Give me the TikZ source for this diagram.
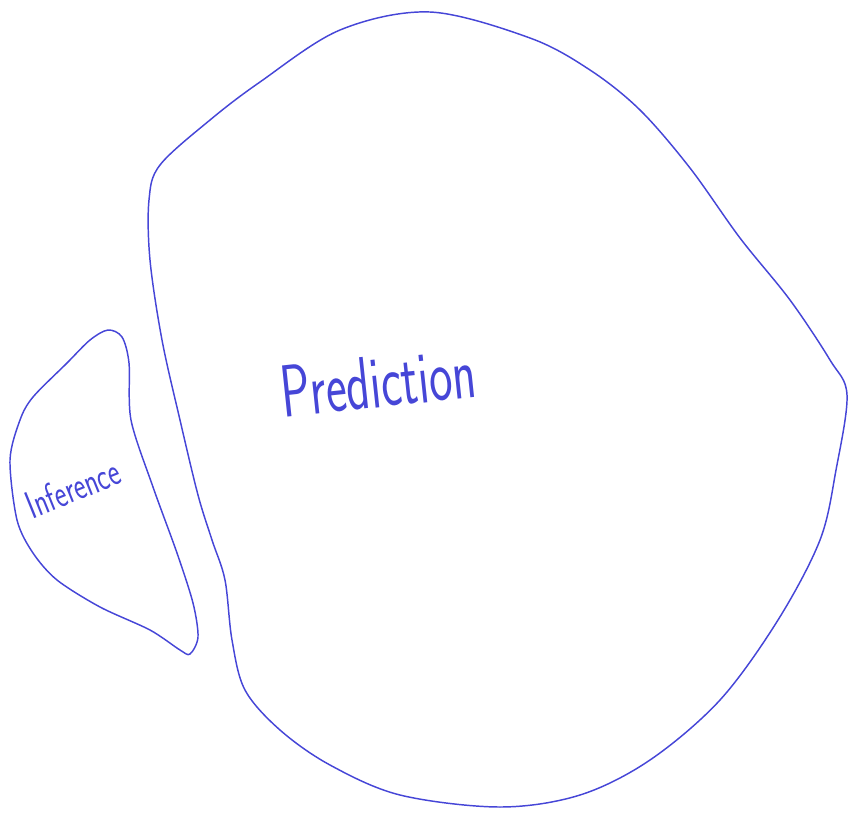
\documentclass[tikz,border=0pt]{standalone}
\usepackage{graphicx}
\definecolor{pen}{RGB}{70,70,215}
\tikzset{blob/.style={draw=pen,line width=1.1pt,line join=round},
  hand/.style={text=pen,font=\sffamily}}
\begin{document}
\begin{tikzpicture}[x=0.75pt,y=-0.75pt]
\useasboundingbox (0,0) rectangle (849,815);
% big blob
\draw[blob] plot[smooth cycle,tension=0.55] coordinates {
(430,12) (530,38) (590,70) (640,110) (690,168) (740,238) (790,300) (830,360) (847,395)
(836,470) (820,540) (778,620) (720,700) (650,760) (580,795) (500,807) (400,795)
(330,765) (280,730) (245,690) (232,640) (225,580) (212,540) (198,495) (180,420)
(162,340) (150,260) (149,200) (160,165) (210,120) (260,82) (340,30)};
% small blob
\draw[blob] plot[smooth cycle,tension=0.5] coordinates {
(108,330) (122,337) (129,363) (131,420) (153,487) (177,553) (193,603) (198,637) (190,654)
(180,650) (150,630) (100,607) (57,580) (33,553) (17,520) (10,460) (20,420) (33,397)
(67,363) (90,340)};
\node[hand,rotate=6] (pred) at (378,382) {\fontsize{37}{44}\selectfont\scalebox{1}[1.5]{Prediction}};
\node[hand,rotate=22] (inf) at (73,488) {\fontsize{21}{26}\selectfont\scalebox{1}[1.4]{Inference}};
\end{tikzpicture}
\end{document}
